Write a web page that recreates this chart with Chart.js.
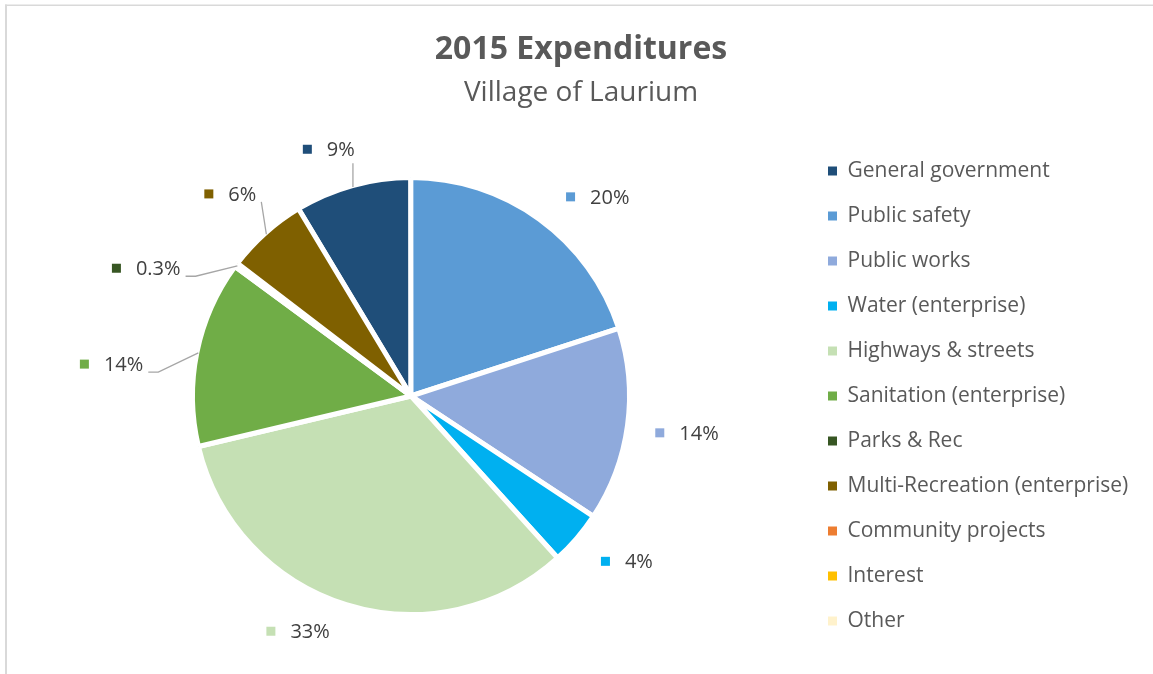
<!DOCTYPE html>
<html>
<head>
<meta charset="utf-8">
<script src="https://cdn.jsdelivr.net/npm/chart.js@4"></script>
<style>
html,body{margin:0;padding:0;background:#ffffff;}
canvas{display:block;}
</style>
</head>
<body>
<canvas id="c" width="1153" height="674"></canvas>
<script>
// ---- data ----
const categories = ['General government', 'Public safety', 'Public works', 'Water (enterprise)',
  'Highways & streets', 'Sanitation (enterprise)', 'Parks & Rec', 'Multi-Recreation (enterprise)',
  'Community projects', 'Interest', 'Other'];
const shares = [8.6, 20, 14.3, 4, 33, 13.8, 0.3, 6, 0, 0, 0];
const titleText = '2015 Expenditures';
const subtitleText = 'Village of Laurium';

// ---- styles ----
const sliceColors = ['#1F4E79', '#5B9BD5', '#8FAADC', '#00B0F0', '#C5E0B4', '#70AD47',
  '#375623', '#7F6000', '#ED7D31', '#FFC000', '#FFF2CC'];
const FONT = '"Open Sans", "Liberation Sans", sans-serif';
const GAP = 5;
// label layout: angular shift (deg) from slice middle, distance as multiple of radius, leader line
const labelLayout = [
  {shift: -2.9, dist: 1.204, leader: true},
  {shift: 7.2, dist: 1.264, leader: false},
  {shift: -0.1, dist: 1.289, leader: false},
  {shift: -3.2, dist: 1.259, leader: false},
  {shift: 8.4, dist: 1.208, leader: false},
  {shift: -5.4, dist: 1.394, leader: true},
  {shift: -11.1, dist: 1.361, leader: true},
  {shift: 0, dist: 1.255, leader: true},
  {shift: 0, dist: 1.25, leader: false},
  {shift: 0, dist: 1.25, leader: false},
  {shift: 0, dist: 1.25, leader: false}
];

const frame = {
  id: 'frame',
  beforeDraw(chart) {
    const ctx = chart.ctx;
    ctx.save();
    ctx.fillStyle = '#ffffff';
    ctx.fillRect(0, 0, chart.width, chart.height);
    ctx.fillStyle = '#d9d9d9';
    ctx.fillRect(5, 4.5, chart.width - 5, 1.5);
    ctx.fillRect(5, 4.5, 2, chart.height - 4.5);
    ctx.restore();
  }
};

const legendWidth = {
  id: 'legendWidth',
  beforeLayout(chart) {
    const lg = chart.legend;
    if (lg && !lg.__wrapped) {
      const fit = lg.fit.bind(lg);
      lg.fit = function () { fit(); this.width = 340; };
      lg.__wrapped = true;
    }
  }
};

const sliceLabels = {
  id: 'sliceLabels',
  afterDatasetsDraw(chart) {
    const ctx = chart.ctx;
    const meta = chart.getDatasetMeta(0);
    const data = chart.data.datasets[0].data;
    const total = data.reduce((a, b) => a + b, 0);
    ctx.save();
    ctx.font = '20px ' + FONT;
    meta.data.forEach((arc, i) => {
      const v = data[i];
      if (!v) return;
      const p = arc.getProps(['x', 'y', 'startAngle', 'endAngle', 'outerRadius'], true);
      const r = p.outerRadius - GAP / 2;
      const mid = (p.startAngle + p.endAngle) / 2;
      const L = labelLayout[i];
      const a = mid + L.shift * Math.PI / 180;
      const gx = p.x + r * L.dist * Math.cos(a);
      const gy = p.y + r * L.dist * Math.sin(a);
      const pct = v / total * 100;
      const txt = (pct < 1 ? pct.toFixed(1) : Math.round(pct)) + '%';
      const tw = ctx.measureText(txt).width;
      const gw = 24 + tw;
      const left = gx - gw / 2;
      const textRight = left + gw;
      ctx.fillStyle = sliceColors[i];
      ctx.fillRect(left, gy - 4.5, 9, 9);
      ctx.fillStyle = '#404040';
      ctx.textBaseline = 'alphabetic';
      ctx.textAlign = 'left';
      ctx.fillText(txt, left + 24, gy + 7);
      if (L.leader) {
        const ax = p.x + (r + 1) * Math.cos(mid);
        const ay = p.y + (r + 1) * Math.sin(mid);
        ctx.strokeStyle = '#a6a6a6';
        ctx.lineWidth = 1.3;
        ctx.beginPath();
        if (ax > left && ax < textRight + 8 && ay > gy) {
          ctx.moveTo(ax, gy + 14);
          ctx.lineTo(ax, ay);
        } else if (ax >= gx) {
          const sx = textRight + 5, sy = gy + 8;
          ctx.moveTo(sx, sy);
          if (ax - sx > 25) ctx.lineTo(sx + 10, sy);
          ctx.lineTo(ax, ay);
        } else {
          const sx = left - 5, sy = gy + 8;
          ctx.moveTo(sx, sy);
          if (sx - ax > 25) ctx.lineTo(sx - 10, sy);
          ctx.lineTo(ax, ay);
        }
        ctx.stroke();
      }
    });
    ctx.restore();
  }
};

new Chart(document.getElementById('c'), {
  type: 'pie',
  data: {
    labels: categories,
    datasets: [{
      data: shares,
      backgroundColor: sliceColors,
      borderColor: '#ffffff',
      borderWidth: GAP,
      hoverOffset: 0
    }]
  },
  options: {
    responsive: false,
    animation: false,
    rotation: 329,
    radius: 218.5,
    layout: {padding: {left: 18, right: 9, top: 0, bottom: 0}},
    plugins: {
      tooltip: {enabled: false},
      title: {
        display: true, text: titleText, color: '#595959',
        font: {family: FONT, size: 32, weight: 'bold'},
        padding: {top: 31, bottom: 0}
      },
      subtitle: {
        display: true, text: subtitleText, color: '#595959',
        font: {family: FONT, size: 28, weight: 'normal'},
        padding: {top: 6.8, bottom: 8.2}
      },
      legend: {
        position: 'right',
        align: 'center',
        fullSize: false,
        labels: {
          boxWidth: 9,
          boxHeight: 9,
          padding: 24,
          color: '#595959',
          font: {family: FONT, size: 21},
          generateLabels(chart) {
            const items = Chart.overrides.doughnut.plugins.legend.labels.generateLabels(chart);
            items.forEach(it => { it.lineWidth = 0; it.strokeStyle = 'rgba(0,0,0,0)'; it.fontColor = '#595959'; });
            return items;
          }
        }
      }
    }
  },
  plugins: [frame, legendWidth, sliceLabels]
});
</script>
</body>
</html>
